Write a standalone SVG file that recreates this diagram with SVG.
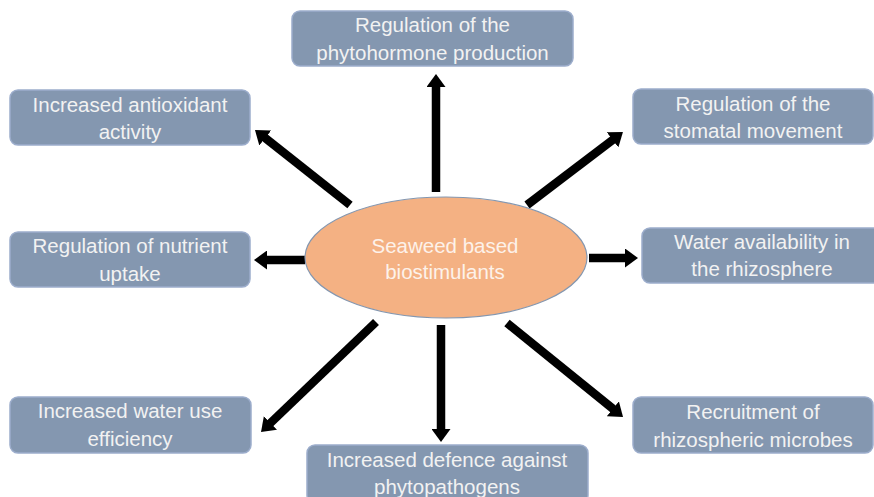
<svg xmlns="http://www.w3.org/2000/svg" width="874" height="497" viewBox="0 0 874 497">
  <style>
    .box { fill: #8497b0; stroke: #9cadcc; stroke-width: 1.5; }
    .lbl { font-family: "Liberation Sans", Arial, sans-serif; font-size: 20.5px; fill: #f2f2f2; text-anchor: middle; }
    .clbl { font-family: "Liberation Sans", Arial, sans-serif; font-size: 20.5px; fill: #fdf2ea; text-anchor: middle; }
    .arrow { stroke: #000000; stroke-width: 8.5; fill: none; marker-end: url(#head); }
  </style>
  <defs>
    <marker id="head" markerUnits="userSpaceOnUse" viewBox="0 -9.5 13 19" markerWidth="13" markerHeight="19" refX="1" refY="0" orient="auto">
      <path d="M0,-9.5 L13,0 L0,9.5 z" fill="#000000"/>
    </marker>
  </defs>
  <rect width="874" height="497" fill="#ffffff"/>

  <g id="connectors">
    <line class="arrow" x1="436" y1="192" x2="436" y2="86"/>
    <line class="arrow" x1="350" y1="205" x2="264.4" y2="137.4"/>
    <line class="arrow" x1="527" y1="205" x2="613.4" y2="139.3"/>
    <line class="arrow" x1="305" y1="260" x2="266" y2="260"/>
    <line class="arrow" x1="589" y1="258" x2="626" y2="258"/>
    <line class="arrow" x1="376" y1="322" x2="269.7" y2="423.7"/>
    <line class="arrow" x1="441" y1="325" x2="441" y2="430"/>
    <line class="arrow" x1="507" y1="323" x2="613.7" y2="409.4"/>
  </g>

  <g id="center">
    <ellipse cx="446" cy="257.5" rx="141" ry="60.5" fill="#f4b183" stroke="#8497b0" stroke-width="1.2"/>
    <text class="clbl" x="445" y="253">Seaweed based</text>
    <text class="clbl" x="445" y="279">biostimulants</text>
  </g>

  <g id="phytohormone">
    <rect class="box" x="292" y="11" width="281" height="55" rx="8"/>
    <text class="lbl" x="432.5" y="32">Regulation of the</text>
    <text class="lbl" x="432.5" y="60">phytohormone production</text>
  </g>

  <g id="antioxidant">
    <rect class="box" x="10" y="90" width="240" height="55" rx="8"/>
    <text class="lbl" x="130" y="111.5">Increased antioxidant</text>
    <text class="lbl" x="130" y="139">activity</text>
  </g>

  <g id="stomatal">
    <rect class="box" x="633" y="89" width="240" height="55" rx="8"/>
    <text class="lbl" x="753" y="110.5">Regulation of the</text>
    <text class="lbl" x="753" y="138">stomatal movement</text>
  </g>

  <g id="nutrient">
    <rect class="box" x="10" y="232" width="240" height="55" rx="8"/>
    <text class="lbl" x="130" y="253">Regulation of nutrient</text>
    <text class="lbl" x="130" y="280.5">uptake</text>
  </g>

  <g id="water">
    <rect class="box" x="642" y="228" width="240" height="55" rx="8"/>
    <text class="lbl" x="762" y="249">Water availability in</text>
    <text class="lbl" x="762" y="276">the rhizosphere</text>
  </g>

  <g id="wue">
    <rect class="box" x="10" y="397" width="241" height="56" rx="8"/>
    <text class="lbl" x="130" y="418">Increased water use</text>
    <text class="lbl" x="130" y="445.5">efficiency</text>
  </g>

  <g id="defence">
    <rect class="box" x="307" y="445" width="281" height="58" rx="8"/>
    <text class="lbl" x="447" y="467">Increased defence against</text>
    <text class="lbl" x="447" y="494">phytopathogens</text>
  </g>

  <g id="recruitment">
    <rect class="box" x="633" y="397" width="240" height="56" rx="8"/>
    <text class="lbl" x="753" y="418.5">Recruitment of</text>
    <text class="lbl" x="753" y="446.5">rhizospheric microbes</text>
  </g>
</svg>
